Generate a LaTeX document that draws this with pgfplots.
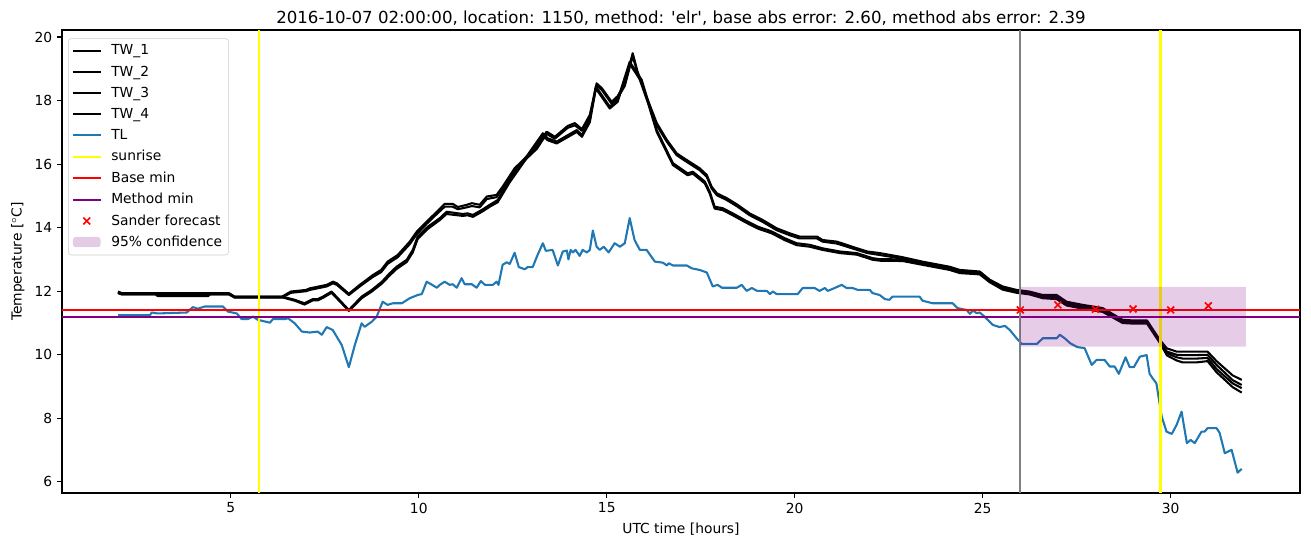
\documentclass[border=0pt]{standalone}
\usepackage{fontspec}
\setmainfont{DejaVu Sans}
\usepackage{pgfplots}
\pgfplotsset{compat=1.18}
\definecolor{tlblue}{HTML}{1F77B4}
\definecolor{mpurple}{HTML}{800080}
\definecolor{mgray}{HTML}{808080}
\definecolor{myellow}{HTML}{FFFF00}
\definecolor{mred}{HTML}{FF0000}

\begin{document}
\begin{tikzpicture}
\path[use as bounding box] (-44.64bp,-38.88bp) rectangle (899.28bp,354.96bp);
\begin{axis}[
 at={(0,0)}, anchor=south west,
 scale only axis, width=891.36bp, height=333.36bp,
 xmin=0.51, xmax=33.44, ymin=5.65, ymax=20.22,
 xtick={5,10,15,20,25,30},
 ytick={6,8,10,12,14,16,18,20},
 tick align=outside, xtick pos=lower, ytick pos=left,
 major tick length=3.5bp,
 every tick/.style={black, line width=0.8pt},
 axis line style={line width=0.8pt},
 /pgf/number format/assume math mode=true,
 ticklabel style={font=\fontsize{10}{12}\selectfont},
 title={2016-10-07 02:00:00, location: 1150, method: \textquotesingle elr\textquotesingle, base abs error: 2.60, method abs error: 2.39},
 title style={font=\fontsize{12}{14}\selectfont, at={(axis description cs:0.5,1)}, anchor=south, yshift=-6.4bp},
 xlabel={UTC time [hours]},
 ylabel={Temperature [$^\circ$C]},
 xlabel style={font=\fontsize{10}{12}\selectfont, at={(axis description cs:0.5,0)}, anchor=center, yshift=-25.9bp},
 ylabel style={font=\fontsize{10}{12}\selectfont, at={(axis description cs:-0.0356,0.5)}, anchor=center},
 legend cell align=left,
 legend style={at={(axis description cs:0.005,0.982)}, anchor=north west, draw=black!20, rounded corners=2pt,
   font=\fontsize{10}{12}\selectfont, row sep=2.4bp, inner sep=2.5bp,
   /tikz/every odd column/.append style={column sep=5bp}},
 legend image code/.code={\draw[mark repeat=2,mark phase=2,#1] plot coordinates {(0cm,0cm) (0.35cm,0cm) (0.7cm,0cm)};},
]
% TW_1
\addplot[black, line width=1.5pt, line join=round] table {
h T
2.00 11.99
2.10 11.94
4.95 11.94
5.10 11.83
6.36 11.83
6.60 11.99
7.00 12.04
7.10 12.09
7.55 12.20
7.72 12.30
7.82 12.25
8.14 11.92
8.43 12.20
8.78 12.51
9.00 12.67
9.17 12.93
9.44 13.14
9.76 13.56
9.95 13.88
10.21 14.19
10.48 14.50
10.69 14.75
10.90 14.75
11.04 14.65
11.28 14.72
11.41 14.77
11.62 14.72
11.81 14.98
12.07 15.03
12.23 15.29
12.55 15.87
12.82 16.18
13.14 16.55
13.40 17.02
13.62 16.86
13.96 17.20
14.15 17.29
14.34 17.10
14.55 17.55
14.73 18.54
14.87 18.39
15.13 17.96
15.29 18.14
15.48 18.54
15.69 19.49
15.82 18.91
16.06 18.12
16.33 17.29
16.60 16.76
16.86 16.34
17.10 16.15
17.47 15.87
17.66 15.66
17.79 15.29
17.93 15.08
18.19 14.93
18.48 14.72
18.80 14.45
19.15 14.24
19.52 13.98
19.87 13.82
20.13 13.72
20.59 13.72
20.74 13.61
21.12 13.56
21.66 13.35
21.93 13.25
22.26 13.20
22.87 13.07
23.40 12.93
24.12 12.77
24.39 12.67
24.92 12.62
25.19 12.36
25.53 12.15
25.90 12.04
26.24 11.99
26.60 11.88
26.97 11.88
27.23 11.67
27.66 11.57
28.19 11.47
28.72 11.10
29.00 11.08
29.37 11.08
29.71 10.47
29.90 10.20
30.16 10.10
30.32 10.10
30.69 10.10
30.98 10.10
31.22 9.80
31.65 9.35
31.89 9.21
};
\addlegendentry{TW\_1}
% TW_2
\addplot[black, line width=1.5pt, line join=round] table {
h T
2.00 11.94
2.10 11.90
4.95 11.90
5.10 11.80
6.36 11.80
6.60 11.95
7.00 12.00
7.10 12.04
7.55 12.15
7.72 12.25
7.82 12.20
8.14 11.88
8.43 12.15
8.78 12.45
9.00 12.60
9.17 12.86
9.44 13.07
9.76 13.48
9.95 13.80
10.21 14.12
10.48 14.43
10.69 14.66
10.90 14.66
11.04 14.58
11.28 14.64
11.41 14.68
11.62 14.64
11.81 14.90
12.07 14.96
12.23 15.22
12.55 15.80
12.82 16.12
13.14 16.48
13.40 16.95
13.62 16.80
13.96 17.14
14.15 17.22
14.34 17.05
14.55 17.48
14.73 18.48
14.87 18.33
15.13 17.90
15.29 18.08
15.48 18.46
15.69 19.40
15.82 18.85
16.06 18.05
16.33 17.22
16.60 16.70
16.86 16.28
17.10 16.09
17.47 15.81
17.66 15.60
17.79 15.23
17.93 15.02
18.19 14.87
18.48 14.66
18.80 14.39
19.15 14.18
19.52 13.92
19.87 13.76
20.13 13.66
20.59 13.66
20.74 13.56
21.12 13.50
21.66 13.30
21.93 13.20
22.26 13.14
22.87 13.02
23.40 12.88
24.12 12.72
24.39 12.62
24.92 12.56
25.19 12.30
25.53 12.10
25.90 12.00
26.24 11.94
26.60 11.83
26.97 11.83
27.23 11.62
27.66 11.52
28.19 11.42
28.72 11.05
29.00 11.03
29.37 11.03
29.71 10.40
29.90 10.10
30.16 10.00
30.32 9.99
30.69 9.99
30.98 10.00
31.22 9.68
31.65 9.20
31.89 9.05
};
\addlegendentry{TW\_2}
% TW_3
\addplot[black, line width=1.5pt, line join=round] table {
h T
2.00 11.97
2.10 11.92
4.95 11.92
5.10 11.83
6.36 11.83
6.70 11.73
6.96 11.62
7.18 11.75
7.31 11.75
7.45 11.83
7.68 11.99
8.14 11.41
8.35 11.67
8.48 11.83
8.75 12.04
9.02 12.30
9.23 12.57
9.41 12.77
9.68 12.99
9.84 13.30
9.97 13.72
10.24 14.03
10.56 14.30
10.74 14.50
11.17 14.43
11.30 14.45
11.44 14.40
11.68 14.56
11.89 14.72
12.10 14.87
12.42 15.50
12.77 16.08
13.30 16.97
13.43 16.81
13.67 16.71
14.20 17.07
14.34 16.92
14.55 17.39
14.71 18.44
15.08 17.81
15.29 18.02
15.61 19.22
15.93 18.65
16.33 17.07
16.76 16.03
17.15 15.71
17.29 15.76
17.61 15.45
17.74 15.13
17.87 14.66
18.09 14.61
18.35 14.45
18.67 14.24
19.02 14.03
19.39 13.88
19.73 13.67
20.05 13.51
20.40 13.46
20.74 13.35
21.20 13.25
21.65 13.20
22.07 13.04
22.26 13.01
22.87 13.00
23.40 12.88
24.12 12.72
24.39 12.62
24.92 12.58
25.19 12.33
25.53 12.10
25.90 11.99
26.24 11.94
26.60 11.83
26.97 11.80
27.23 11.60
27.66 11.50
28.19 11.40
28.72 11.05
29.00 11.03
29.37 11.03
29.71 10.42
29.90 10.05
30.16 9.92
30.32 9.88
30.69 9.88
30.98 9.90
31.22 9.55
31.65 9.10
31.89 8.95
};
\addlegendentry{TW\_3}
% TW_4
\addplot[black, line width=1.5pt, line join=round] table {
h T
2.00 11.95
2.10 11.90
3.00 11.90
3.05 11.85
4.40 11.85
4.45 11.90
4.95 11.90
5.10 11.81
6.36 11.81
6.70 11.70
6.96 11.58
7.18 11.71
7.31 11.71
7.45 11.79
7.68 11.95
8.14 11.38
8.35 11.62
8.48 11.78
8.75 11.99
9.02 12.24
9.23 12.50
9.41 12.70
9.68 12.92
9.84 13.22
9.97 13.64
10.24 13.96
10.56 14.24
10.74 14.43
11.17 14.37
11.30 14.39
11.44 14.34
11.68 14.50
11.89 14.66
12.10 14.80
12.42 15.43
12.77 16.02
13.30 16.90
13.43 16.75
13.67 16.65
14.20 17.01
14.34 16.86
14.55 17.32
14.71 18.38
15.08 17.75
15.29 17.96
15.61 19.15
15.93 18.58
16.33 17.01
16.76 15.97
17.15 15.65
17.29 15.70
17.61 15.39
17.74 15.07
17.87 14.60
18.09 14.55
18.35 14.39
18.67 14.18
19.02 13.97
19.39 13.82
19.73 13.61
20.05 13.45
20.40 13.40
20.74 13.30
21.20 13.20
21.65 13.15
22.07 12.99
22.26 12.96
22.87 12.95
23.40 12.83
24.12 12.67
24.39 12.57
24.92 12.53
25.19 12.28
25.53 12.05
25.90 11.95
26.24 11.90
26.60 11.78
26.97 11.75
27.23 11.55
27.66 11.45
28.19 11.35
28.72 11.00
29.00 10.98
29.37 10.98
29.71 10.38
29.90 9.98
30.16 9.82
30.32 9.76
30.69 9.76
30.98 9.80
31.22 9.45
31.65 8.98
31.89 8.81
};
\addlegendentry{TW\_4}
% TL
\addplot[tlblue, line width=1.5pt, line join=round] table {
h T
2.00 11.25
2.85 11.25
2.90 11.33
3.05 11.30
3.83 11.33
3.99 11.50
4.12 11.45
4.31 11.52
4.79 11.52
4.92 11.36
5.16 11.30
5.29 11.12
5.45 11.12
5.59 11.20
5.72 11.10
6.04 11.01
6.12 11.12
6.44 11.12
6.52 11.15
6.70 10.99
6.89 10.73
7.10 10.70
7.31 10.73
7.42 10.63
7.55 10.87
7.71 10.78
7.95 10.31
8.14 9.61
8.30 10.31
8.48 10.99
8.56 10.88
8.75 11.04
8.88 11.20
9.04 11.67
9.17 11.57
9.31 11.62
9.55 11.62
9.76 11.78
9.97 11.88
10.08 11.91
10.21 12.30
10.34 12.21
10.48 12.11
10.56 12.20
10.69 12.30
10.82 12.20
10.90 12.22
11.01 12.11
11.14 12.41
11.22 12.22
11.41 12.22
11.54 12.11
11.65 12.32
11.76 12.20
11.97 12.20
12.07 12.30
12.12 12.20
12.23 12.83
12.34 12.91
12.42 12.86
12.55 13.21
12.66 12.76
12.82 12.69
12.90 12.76
13.03 12.76
13.16 13.14
13.30 13.51
13.38 13.27
13.56 13.30
13.70 12.81
13.83 13.25
13.94 13.28
13.98 13.00
14.04 13.30
14.10 13.22
14.17 13.30
14.28 13.11
14.36 13.30
14.47 13.22
14.55 13.30
14.63 13.91
14.73 13.40
14.81 13.30
14.92 13.40
15.05 13.22
15.21 13.51
15.35 13.40
15.48 13.51
15.61 14.30
15.74 13.61
15.88 13.30
16.06 13.30
16.28 12.93
16.49 12.90
16.60 12.81
16.65 12.88
16.76 12.81
17.13 12.81
17.26 12.72
17.47 12.67
17.66 12.59
17.82 12.15
17.95 12.20
18.06 12.11
18.46 12.11
18.59 12.20
18.72 12.01
18.86 12.10
19.00 12.01
19.26 12.01
19.34 11.91
19.42 11.99
19.52 11.91
20.08 11.91
20.21 12.10
20.53 12.10
20.66 12.01
20.80 12.10
20.88 12.01
21.06 12.10
21.25 12.20
21.38 12.10
21.54 12.10
21.68 12.04
22.00 12.04
22.07 11.94
22.26 11.88
22.40 11.75
22.52 11.73
22.60 11.83
23.32 11.83
23.40 11.70
23.67 11.62
24.20 11.62
24.33 11.47
24.57 11.41
24.66 11.29
24.74 11.39
24.84 11.31
24.92 11.33
25.05 11.20
25.27 10.94
25.45 10.87
25.59 10.91
25.72 10.78
25.90 10.52
26.04 10.34
26.44 10.34
26.60 10.52
26.97 10.52
27.05 10.63
27.18 10.52
27.33 10.36
27.52 10.24
27.71 10.21
27.90 9.68
28.03 9.84
28.24 9.84
28.38 9.63
28.51 9.63
28.62 9.40
28.80 9.92
28.91 9.61
29.02 9.61
29.18 9.94
29.36 9.99
29.44 9.40
29.52 9.26
29.62 9.10
29.76 8.06
29.89 7.58
30.03 7.51
30.16 7.80
30.29 8.21
30.43 7.22
30.53 7.32
30.64 7.22
30.82 7.58
30.90 7.58
30.98 7.69
31.22 7.69
31.30 7.55
31.44 6.90
31.62 7.01
31.78 6.29
31.89 6.41
};
\addlegendentry{TL}
% sunrise
\addplot[myellow, line width=1.5pt] coordinates {(5.76,5.65) (5.76,20.22)};
\addlegendentry{sunrise}
\addplot[myellow, line width=1.5pt, forget plot] coordinates {(29.73,5.65) (29.73,20.22)};
% base min
\addplot[mred, line width=1.5pt] coordinates {(0.51,11.41) (33.44,11.41)};
\addlegendentry{Base min}
% method min
\addplot[mpurple, line width=1.5pt] coordinates {(0.51,11.19) (33.44,11.19)};
\addlegendentry{Method min}
% forecast time
\addplot[mgray, line width=1.5pt, forget plot] coordinates {(26,5.65) (26,20.22)};
% Sander forecast
\addplot[only marks, mark=x, mark size=3.5pt, mred, mark options={line width=1.2pt}] coordinates {
(26,11.41) (27,11.57) (28,11.43) (29,11.44) (30,11.41) (31,11.54)};
\addlegendentry{Sander forecast}
% confidence
\addplot[draw=none, fill=mpurple, fill opacity=0.2,
  legend image code/.code={\fill[mpurple, fill opacity=0.2] (0cm,-0.12cm) rectangle (0.7cm,0.14cm);}]
  coordinates {(26,10.26) (32,10.26) (32,12.14) (26,12.14) (26,10.26)};
\addlegendentry{95\% confidence}
\end{axis}
\end{tikzpicture}
\end{document}
